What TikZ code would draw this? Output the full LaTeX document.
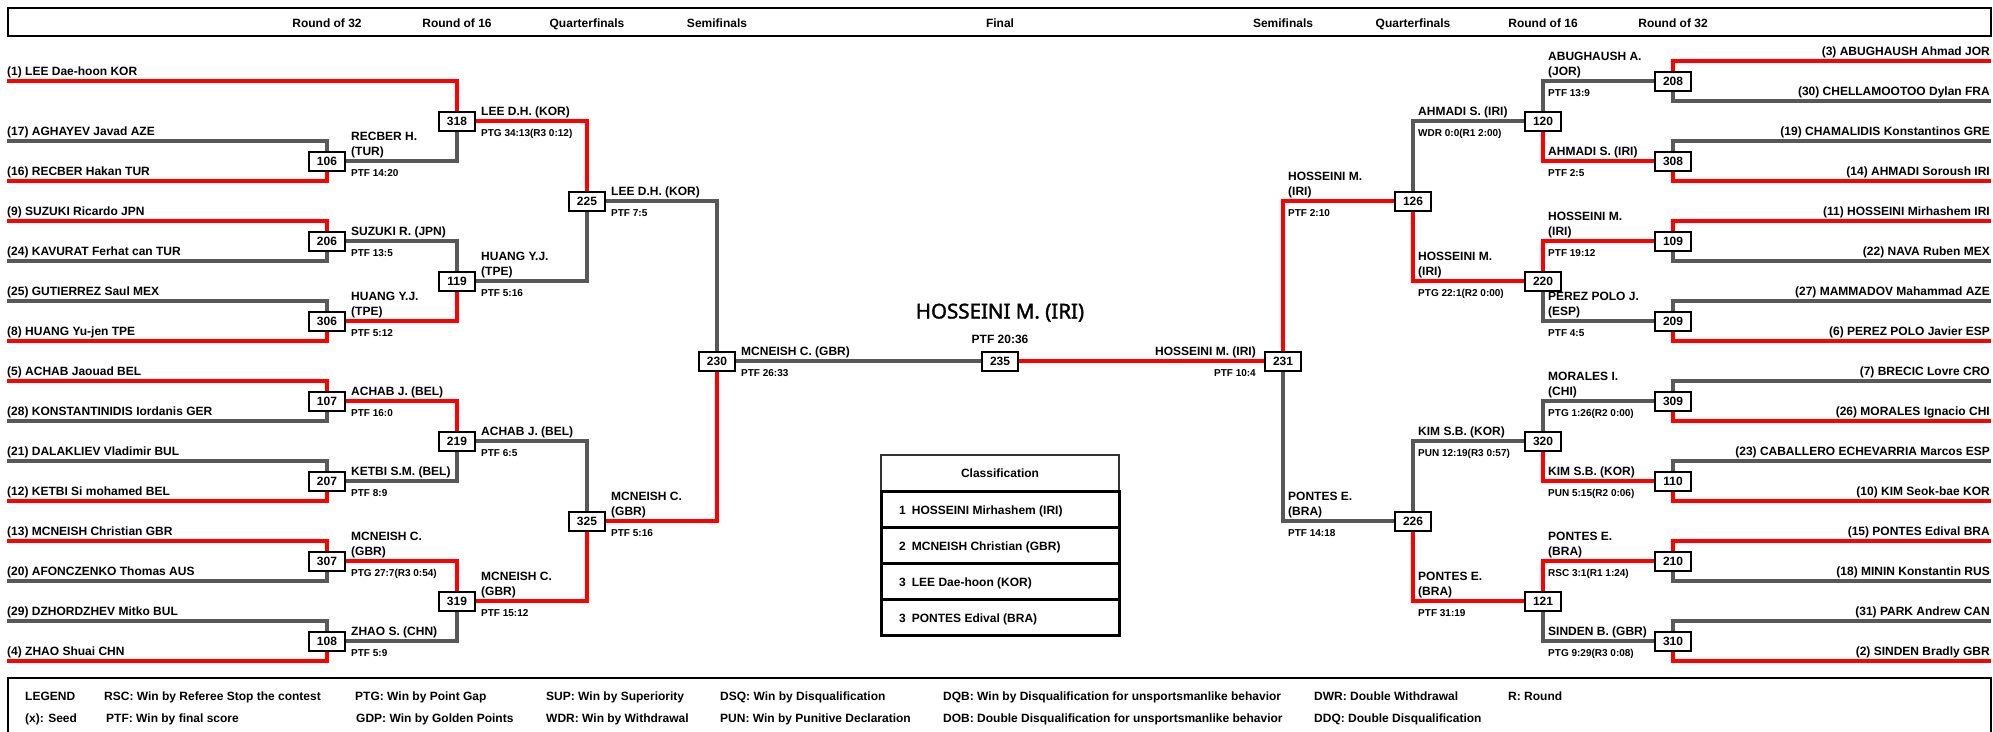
\documentclass[tikz,border=0pt]{standalone}
\usepackage{fontspec}
\setmainfont{Liberation Sans}
\newfontfamily\bigfont{Noto Sans}[FakeBold=1.6]
\usetikzlibrary{calc}
\pgfdeclarelayer{bg}
\pgfsetlayers{bg,main}
\definecolor{wred}{RGB}{255,0,0}
\definecolor{lgray}{RGB}{88,88,88}
\begin{document}
\begin{tikzpicture}[x=1pt,y=-1pt,
  bx/.style={draw=black,line width=2pt,fill=white,minimum width=36pt,minimum height=19pt,inner sep=0pt,font=\fontsize{12}{14}\selectfont\bfseries},
  nm/.style={inner sep=0pt,font=\fontsize{12}{14}\selectfont\bfseries},
  sc/.style={inner sep=0pt,font=\fontsize{10}{12}\selectfont\bfseries},
  win/.style={draw=wred,line width=4pt},
  los/.style={draw=lgray,line width=4pt},
  frame/.style={draw=black,line width=2pt,inner sep=0pt,anchor=north west}]
\useasboundingbox (0,0) rectangle (1993,731);

% header
\node[frame,minimum width=1983pt,minimum height=28pt] (hdr) at (7,7) {};
\foreach \x/\t [count=\i] in {327/Round of 32,457/Round of 16,587/Quarterfinals,717/Semifinals,1000/Final,1283/Semifinals,1413/Quarterfinals,1543/Round of 16,1673/Round of 32}
  \node[nm,anchor=base] (h\i) at (\x,27) {\t};

% match boxes
\foreach \n/\x/\y in {106/327/161,206/327/241,306/327/321,107/327/401,207/327/481,307/327/561,108/327/641,
  318/457/121,119/457/281,219/457/441,319/457/601,225/587/201,325/587/521,230/717/361,235/1000/361,231/1283/361,
  126/1413/201,226/1413/521,120/1543/121,220/1543/281,320/1543/441,121/1543/601,
  208/1673/81,308/1673/161,109/1673/241,209/1673/321,309/1673/401,110/1673/481,210/1673/561,310/1673/641}
  \node[bx] (b\n) at (\x,\y) {\n};

% left entries
\foreach \s/\y/\c/\b/\t in {1/81/win/b318/{(1) LEE Dae-hoon KOR},17/141/los/b106/{(17) AGHAYEV Javad AZE},16/181/win/b106/{(16) RECBER Hakan TUR},
  9/221/win/b206/{(9) SUZUKI Ricardo JPN},24/261/los/b206/{(24) KAVURAT Ferhat can TUR},25/301/los/b306/{(25) GUTIERREZ Saul MEX},8/341/win/b306/{(8) HUANG Yu-jen TPE},
  5/381/win/b107/{(5) ACHAB Jaouad BEL},28/421/los/b107/{(28) KONSTANTINIDIS Iordanis GER},21/461/los/b207/{(21) DALAKLIEV Vladimir BUL},12/501/win/b207/{(12) KETBI Si mohamed BEL},
  13/541/win/b307/{(13) MCNEISH Christian GBR},20/581/los/b307/{(20) AFONCZENKO Thomas AUS},29/621/los/b108/{(29) DZHORDZHEV Mitko BUL},4/661/win/b108/{(4) ZHAO Shuai CHN}}
{
  \coordinate (l\s) at (7,\y);
  \node[nm,anchor=base west] (le\s) at (7,\y-6) {\t};
  \begin{pgfonlayer}{bg}\draw[\c] (l\s) -| (\b);\end{pgfonlayer}
}

% right entries
\foreach \s/\y/\c/\b/\t in {3/61/win/b208/{(3) ABUGHAUSH Ahmad JOR},30/101/los/b208/{(30) CHELLAMOOTOO Dylan FRA},19/141/los/b308/{(19) CHAMALIDIS Konstantinos GRE},14/181/win/b308/{(14) AHMADI Soroush IRI},
  11/221/win/b109/{(11) HOSSEINI Mirhashem IRI},22/261/los/b109/{(22) NAVA Ruben MEX},27/301/los/b209/{(27) MAMMADOV Mahammad AZE},6/341/win/b209/{(6) PEREZ POLO Javier ESP},
  7/381/los/b309/{(7) BRECIC Lovre CRO},26/421/win/b309/{(26) MORALES Ignacio CHI},23/461/los/b110/{(23) CABALLERO ECHEVARRIA Marcos ESP},10/501/win/b110/{(10) KIM Seok-bae KOR},
  15/541/win/b210/{(15) PONTES Edival BRA},18/581/los/b210/{(18) MININ Konstantin RUS},31/621/los/b310/{(31) PARK Andrew CAN},2/661/win/b310/{(2) SINDEN Bradly GBR}}
{
  \coordinate (r\s) at (1991,\y);
  \node[nm,anchor=base east] (re\s) at (1990,\y-6) {\t};
  \begin{pgfonlayer}{bg}\draw[\c] (r\s) -| (\b);\end{pgfonlayer}
}

% advancement lines
\begin{pgfonlayer}{bg}
\foreach \a/\b/\c in {b106/b318/los,b206/b119/los,b306/b119/win,b107/b219/win,b207/b219/los,b307/b319/win,b108/b319/los,
  b318/b225/win,b119/b225/los,b219/b325/los,b319/b325/win,b225/b230/los,b325/b230/win,
  b208/b120/los,b308/b120/win,b109/b220/win,b209/b220/los,b309/b320/los,b110/b320/win,b210/b121/win,b310/b121/los,
  b120/b126/los,b220/b126/win,b320/b226/los,b121/b226/win,b126/b231/win,b226/b231/los}
  \draw[\c] (\a) -| (\b);
\draw[los] (b230) -- (b235);
\draw[win] (b231) -- (b235);
\end{pgfonlayer}

% left winner labels
\node[nm,anchor=base west] (w106a) at (351,140) {RECBER H.};
\node[nm,anchor=base west] (w106b) at (351,155) {(TUR)};
\node[sc,anchor=base west] (w106s) at (351,176) {PTF 14:20};
\node[nm,anchor=base west] (w206a) at (351,235) {SUZUKI R. (JPN)};
\node[sc,anchor=base west] (w206s) at (351,256) {PTF 13:5};
\node[nm,anchor=base west] (w306a) at (351,300) {HUANG Y.J.};
\node[nm,anchor=base west] (w306b) at (351,315) {(TPE)};
\node[sc,anchor=base west] (w306s) at (351,336) {PTF 5:12};
\node[nm,anchor=base west] (w107a) at (351,395) {ACHAB J. (BEL)};
\node[sc,anchor=base west] (w107s) at (351,416) {PTF 16:0};
\node[nm,anchor=base west] (w207a) at (351,475) {KETBI S.M. (BEL)};
\node[sc,anchor=base west] (w207s) at (351,496) {PTF 8:9};
\node[nm,anchor=base west] (w307a) at (351,540) {MCNEISH C.};
\node[nm,anchor=base west] (w307b) at (351,555) {(GBR)};
\node[sc,anchor=base west] (w307s) at (351,576) {PTG 27:7(R3 0:54)};
\node[nm,anchor=base west] (w108a) at (351,635) {ZHAO S. (CHN)};
\node[sc,anchor=base west] (w108s) at (351,656) {PTF 5:9};

\node[nm,anchor=base west] (w318a) at (481,115) {LEE D.H. (KOR)};
\node[sc,anchor=base west] (w318s) at (481,136) {PTG 34:13(R3 0:12)};
\node[nm,anchor=base west] (w119a) at (481,260) {HUANG Y.J.};
\node[nm,anchor=base west] (w119b) at (481,275) {(TPE)};
\node[sc,anchor=base west] (w119s) at (481,296) {PTF 5:16};
\node[nm,anchor=base west] (w219a) at (481,435) {ACHAB J. (BEL)};
\node[sc,anchor=base west] (w219s) at (481,456) {PTF 6:5};
\node[nm,anchor=base west] (w319a) at (481,580) {MCNEISH C.};
\node[nm,anchor=base west] (w319b) at (481,595) {(GBR)};
\node[sc,anchor=base west] (w319s) at (481,616) {PTF 15:12};

\node[nm,anchor=base west] (w225a) at (611,195) {LEE D.H. (KOR)};
\node[sc,anchor=base west] (w225s) at (611,216) {PTF 7:5};
\node[nm,anchor=base west] (w325a) at (611,500) {MCNEISH C.};
\node[nm,anchor=base west] (w325b) at (611,515) {(GBR)};
\node[sc,anchor=base west] (w325s) at (611,536) {PTF 5:16};

\node[nm,anchor=base west] (w230a) at (741,355) {MCNEISH C. (GBR)};
\node[sc,anchor=base west] (w230s) at (741,376) {PTF 26:33};

% final
\node[inner sep=0pt,font=\bigfont\fontsize{20.5}{24}\selectfont,anchor=base] (champ) at (1000,318.5) {HOSSEINI M. (IRI)};
\node[nm,anchor=base] (w235s) at (1000,343) {PTF 20:36};

% right winner labels
\node[nm,anchor=base east] (w231a) at (1256,355) {HOSSEINI M. (IRI)};
\node[sc,anchor=base east] (w231s) at (1256,376) {PTF 10:4};

\node[nm,anchor=base west] (w126a) at (1288,180) {HOSSEINI M.};
\node[nm,anchor=base west] (w126b) at (1288,195) {(IRI)};
\node[sc,anchor=base west] (w126s) at (1288,216) {PTF 2:10};
\node[nm,anchor=base west] (w226a) at (1288,500) {PONTES E.};
\node[nm,anchor=base west] (w226b) at (1288,515) {(BRA)};
\node[sc,anchor=base west] (w226s) at (1288,536) {PTF 14:18};

\node[nm,anchor=base west] (w120a) at (1418,115) {AHMADI S. (IRI)};
\node[sc,anchor=base west] (w120s) at (1418,136) {WDR 0:0(R1 2:00)};
\node[nm,anchor=base west] (w220a) at (1418,260) {HOSSEINI M.};
\node[nm,anchor=base west] (w220b) at (1418,275) {(IRI)};
\node[sc,anchor=base west] (w220s) at (1418,296) {PTG 22:1(R2 0:00)};
\node[nm,anchor=base west] (w320a) at (1418,435) {KIM S.B. (KOR)};
\node[sc,anchor=base west] (w320s) at (1418,456) {PUN 12:19(R3 0:57)};
\node[nm,anchor=base west] (w121a) at (1418,580) {PONTES E.};
\node[nm,anchor=base west] (w121b) at (1418,595) {(BRA)};
\node[sc,anchor=base west] (w121s) at (1418,616) {PTF 31:19};

\node[nm,anchor=base west] (w208a) at (1548,60) {ABUGHAUSH A.};
\node[nm,anchor=base west] (w208b) at (1548,75) {(JOR)};
\node[sc,anchor=base west] (w208s) at (1548,96) {PTF 13:9};
\node[nm,anchor=base west] (w308a) at (1548,155) {AHMADI S. (IRI)};
\node[sc,anchor=base west] (w308s) at (1548,176) {PTF 2:5};
\node[nm,anchor=base west] (w109a) at (1548,220) {HOSSEINI M.};
\node[nm,anchor=base west] (w109b) at (1548,235) {(IRI)};
\node[sc,anchor=base west] (w109s) at (1548,256) {PTF 19:12};
\node[nm,anchor=base west] (w209a) at (1548,300) {PEREZ POLO J.};
\node[nm,anchor=base west] (w209b) at (1548,315) {(ESP)};
\node[sc,anchor=base west] (w209s) at (1548,336) {PTF 4:5};
\node[nm,anchor=base west] (w309a) at (1548,380) {MORALES I.};
\node[nm,anchor=base west] (w309b) at (1548,395) {(CHI)};
\node[sc,anchor=base west] (w309s) at (1548,416) {PTG 1:26(R2 0:00)};
\node[nm,anchor=base west] (w110a) at (1548,475) {KIM S.B. (KOR)};
\node[sc,anchor=base west] (w110s) at (1548,496) {PUN 5:15(R2 0:06)};
\node[nm,anchor=base west] (w210a) at (1548,540) {PONTES E.};
\node[nm,anchor=base west] (w210b) at (1548,555) {(BRA)};
\node[sc,anchor=base west] (w210s) at (1548,576) {RSC 3:1(R1 1:24)};
\node[nm,anchor=base west] (w310a) at (1548,635) {SINDEN B. (GBR)};
\node[sc,anchor=base west] (w310s) at (1548,656) {PTG 9:29(R3 0:08)};

% classification
\node[draw=black!80,line width=1.5pt,minimum width=238pt,minimum height=37pt,inner sep=0pt,font=\fontsize{12}{14}\selectfont\bfseries] (ctitle) at (1000,473.5) {Classification};
\foreach \t [count=\i] in {HOSSEINI Mirhashem (IRI),MCNEISH Christian (GBR),LEE Dae-hoon (KOR),PONTES Edival (BRA)}
{
  \node[draw=black,line width=3pt,minimum width=238pt,minimum height=36pt,inner sep=0pt] (crow\i) at (1000,473.5+36*\i) {};
}
\node[nm,anchor=base west] (cr1) at (899,514) {1\hspace{6pt}HOSSEINI Mirhashem (IRI)};
\node[nm,anchor=base west] (cr2) at (899,550) {2\hspace{6pt}MCNEISH Christian (GBR)};
\node[nm,anchor=base west] (cr3) at (899,586) {3\hspace{6pt}LEE Dae-hoon (KOR)};
\node[nm,anchor=base west] (cr4) at (899,622) {3\hspace{6pt}PONTES Edival (BRA)};

% legend
\node[frame,minimum width=1983pt,minimum height=70pt] (leg) at (7,677) {};
\foreach \x/\y/\t [count=\i] in {25/700/LEGEND,104/700/{RSC: Win by Referee Stop the contest},355/700/{PTG: Win by Point Gap},546/700/{SUP: Win by Superiority},720/700/{DSQ: Win by Disqualification},943/700/{DQB: Win by Disqualification for unsportsmanlike behavior},1314/700/{DWR: Double Withdrawal},1508/700/{R: Round},
  25/722/{(x): Seed},106/722/{PTF: Win by final score},356/722/{GDP: Win by Golden Points},546/722/{WDR: Win by Withdrawal},720/722/{PUN: Win by Punitive Declaration},943/722/{DOB: Double Disqualification for unsportsmanlike behavior},1314/722/{DDQ: Double Disqualification}}
  \node[nm,anchor=base west] (lg\i) at (\x,\y) {\t};
\end{tikzpicture}
\end{document}
